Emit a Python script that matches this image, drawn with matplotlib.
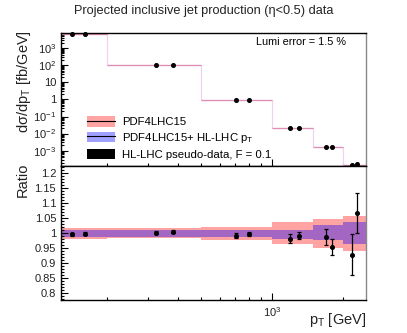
import numpy as np
import matplotlib
matplotlib.use("Agg")
import matplotlib.pyplot as plt
from matplotlib.patches import Patch
from matplotlib.lines import Line2D
from matplotlib.ticker import FixedLocator, FixedFormatter, MultipleLocator, LogLocator, NullFormatter

plt.rcParams['font.family'] = ['Liberation Sans', 'DejaVu Sans']
plt.rcParams['mathtext.fontset'] = 'custom'
plt.rcParams['mathtext.rm'] = 'Liberation Sans'
plt.rcParams['mathtext.it'] = 'Liberation Sans:italic'

# bins in pT [GeV]
bin_edges = [128, 200, 500, 1000, 1500, 2000, 2500]
theory = [7000, 105, 0.93, 0.0225, 0.0016, 1.5e-4]

# relative uncertainties of the two PDF bands (up, down)
pdf_up = [1.017, 1.016, 1.022, 1.037, 1.047, 1.058]
pdf_dn = [0.981, 0.983, 0.976, 0.963, 0.952, 0.941]
hl_up = [1.011, 1.011, 1.011, 1.012, 1.026, 1.037]
hl_dn = [0.986, 0.988, 0.988, 0.979, 0.976, 0.963]

# pseudo-data
pt_data = [142, 161, 323, 381, 704, 799, 1192, 1298, 1693, 1790, 2182, 2290]
data_bin = [0, 0, 1, 1, 2, 2, 3, 3, 4, 4, 5, 5]
ratio = [0.996, 0.998, 1.002, 1.005, 0.991, 0.997, 0.982, 0.991, 0.988, 0.953, 0.928, 1.067]
ratio_err = [0.005, 0.005, 0.005, 0.005, 0.008, 0.008, 0.015, 0.012, 0.027, 0.026, 0.068, 0.068]

pink = '#ffa3a3'
purple = '#a366c2'
blue = '#a0a0ff'

fig = plt.figure(figsize=(4.07, 3.33), dpi=100)
ax1 = fig.add_axes([0.150, 0.5015, 0.749, 0.3995])
ax2 = fig.add_axes([0.150, 0.099, 0.749, 0.4025])

def step(vals):
    return list(vals) + [vals[-1]]

# upper panel
ax1.step(bin_edges, step(theory), where='post', color='#f0d2ee', lw=0.9)
ax1.hlines(theory, bin_edges[:-1], bin_edges[1:], color='#e08cb4', lw=0.9)
top_vals = [ratio[i] * theory[data_bin[i]] for i in range(len(pt_data))]
ax1.plot(pt_data, top_vals, 'o', color='black', ms=2.6, clip_on=False, zorder=5)
ax1.set_xscale('log')
ax1.set_yscale('log')
ax1.set_xlim(bin_edges[0], bin_edges[-1])
ax1.set_ylim(1.25e-4, 8000)
ax1.yaxis.set_major_locator(FixedLocator([1e-3, 1e-2, 1e-1, 1, 10, 100, 1000]))
ax1.yaxis.set_major_formatter(FixedFormatter([r'$10^{-3}$', r'$10^{-2}$', r'$10^{-1}$', '1', '10',
                                              r'$10^{2}$', r'$10^{3}$']))
ax1.yaxis.set_minor_locator(LogLocator(base=10, subs=np.arange(2, 10), numticks=20))
ax1.yaxis.set_minor_formatter(NullFormatter())
ax1.xaxis.set_major_formatter(NullFormatter())
ax1.xaxis.set_minor_formatter(NullFormatter())
ax1.text(0.934, 0.932, 'Lumi error = 1.5 %', transform=ax1.transAxes, ha='right', va='center', fontsize=7.8)

handles = [(Patch(facecolor=pink, edgecolor='none'), Line2D([], [], color='black', lw=0.8)),
           (Patch(facecolor=blue, edgecolor='none'), Line2D([], [], color='black', lw=0.8)),
           Patch(facecolor='black', edgecolor='none')]
labels = ['PDF4LHC15', r'PDF4LHC15+ HL-LHC p$_{\mathrm{T}}$', 'HL-LHC pseudo-data, F = 0.1']
ax1.legend(handles, labels, loc='upper left', bbox_to_anchor=(0.085, 0.375), frameon=False,
           fontsize=8.2, handlelength=2.5, handleheight=1.05, labelspacing=0.32,
           handletextpad=0.6, borderpad=0, borderaxespad=0)

# ratio panel
for i in range(len(theory)):
    lo, hi = bin_edges[i], bin_edges[i + 1]
    ax2.fill_between([lo, hi], pdf_dn[i], pdf_up[i], color=pink, lw=0)
    ax2.fill_between([lo, hi], hl_dn[i], hl_up[i], color=purple, lw=0)
ax2.errorbar(pt_data, ratio, yerr=ratio_err, fmt='o', color='black', ms=2.6,
             elinewidth=0.9, capsize=1.2, capthick=0.9)
ax2.set_xscale('log')
ax2.set_xlim(bin_edges[0], bin_edges[-1])
ax2.set_ylim(0.778, 1.223)
ax2.yaxis.set_minor_locator(MultipleLocator(0.01))
ax2.set_yticks([0.8, 0.85, 0.9, 0.95, 1.0, 1.05, 1.1, 1.15, 1.2])
ax2.set_yticklabels(['0.8', '0.85', '0.9', '0.95', '1', '1.05', '1.1', '1.15', '1.2'])
ax2.xaxis.set_major_locator(FixedLocator([1000]))
ax2.xaxis.set_major_formatter(FixedFormatter([r'$10^{3}$']))
ax2.xaxis.set_minor_locator(LogLocator(base=10, subs=np.arange(2, 10), numticks=20))
ax2.xaxis.set_minor_formatter(NullFormatter())

for ax in (ax1, ax2):
    ax.tick_params(which='both', direction='in', labelsize=8, width=0.8, top=False, right=False,
                   labelcolor='#222222')
    ax.tick_params(which='major', length=5)
    ax.tick_params(which='minor', length=2.5)
    for s in ax.spines.values():
        s.set_linewidth(1.0)
    ax.spines['right'].set_color('#888888')
ax1.xaxis.set_minor_locator(LogLocator(base=10, subs=np.arange(2, 10), numticks=20))
ax1.xaxis.set_major_locator(FixedLocator([1000]))

fig.text(0.5, 0.968, 'Projected inclusive jet production (η<0.5) data', ha='center', va='center',
         fontsize=9.2, color='#222222')
fig.text(0.058, 0.755, r'dσ/dp$_{\mathrm{T}}$ [fb/GeV]', rotation=90, ha='center', va='center',
         fontsize=10.5, color='#222222')
fig.text(0.055, 0.46, 'Ratio', rotation=90, ha='center', va='center', fontsize=10.5, color='#222222')
fig.text(0.899, 0.04, r'p$_{\mathrm{T}}$ [GeV]', ha='right', va='center', fontsize=10.5, color='#222222')

fig.savefig('out.png', dpi=100)
